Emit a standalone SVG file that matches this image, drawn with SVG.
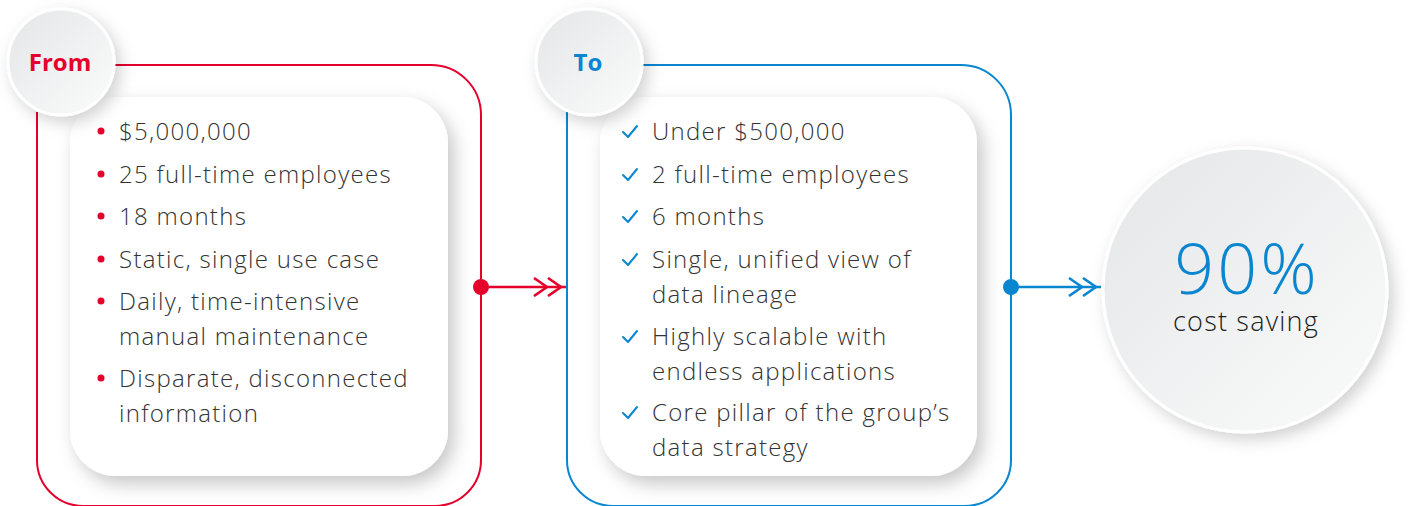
<svg xmlns="http://www.w3.org/2000/svg" width="1411" height="506" viewBox="0 0 1411 506">
  <defs>
    <linearGradient id="discFill" x1="0" y1="0" x2="1" y2="1">
      <stop offset="0" stop-color="#e4e6e7"/>
      <stop offset="1" stop-color="#fbfbfb"/>
    </linearGradient>
    <filter id="cardShadow" x="-20%" y="-20%" width="150%" height="150%">
      <feDropShadow dx="6" dy="8" stdDeviation="9" flood-color="#000" flood-opacity="0.22"/>
    </filter>
    <filter id="discShadow" x="-30%" y="-30%" width="170%" height="170%">
      <feDropShadow dx="5" dy="6" stdDeviation="8" flood-color="#000" flood-opacity="0.18"/>
    </filter>
    <marker id="chevRed" viewBox="0 0 40 20" refX="38" refY="10" markerWidth="40" markerHeight="20" markerUnits="userSpaceOnUse" orient="auto">
      <path d="M6,1 L19,10 L6,19 M20,1 L33,10 L20,19" fill="none" stroke="#e4002b" stroke-width="2.6"/>
    </marker>
    <marker id="chevBlue" viewBox="0 0 40 20" refX="38" refY="10" markerWidth="40" markerHeight="20" markerUnits="userSpaceOnUse" orient="auto">
      <path d="M6,1 L19,10 L6,19 M20,1 L33,10 L20,19" fill="none" stroke="#0a86d1" stroke-width="2.6"/>
    </marker>
  </defs>
  <style>
    .frame-red { fill: none; stroke: #e4002b; stroke-width: 2; }
    .frame-blue { fill: none; stroke: #0a86d1; stroke-width: 2; }
    .card { fill: #ffffff; filter: url(#cardShadow); }
    .disc { fill: url(#discFill); stroke: #ffffff; stroke-width: 3; filter: url(#discShadow); }
    .title { font-family: "Open Sans", "Liberation Sans", sans-serif; font-weight: 700; font-size: 24px; text-anchor: middle; }
    .item { font-family: "Open Sans", "Liberation Sans", sans-serif; font-weight: 300; font-size: 24px; letter-spacing: 1.3px; fill: #333333; }
    .dot-red { fill: #e4002b; }
    .tick { fill: none; stroke: #0a86d1; stroke-width: 2; stroke-linecap: round; stroke-linejoin: round; }
  </style>

  <rect width="1411" height="506" fill="#ffffff"/>

  <!-- "From" column -->
  <g id="from">
    <path class="frame-red" d="M112,65 H431 A50,50 0 0 1 481,115 V460 A46,46 0 0 1 435,506 H83 A46,46 0 0 1 37,460 V112"/>
    <rect class="card" x="70" y="97" width="378" height="379" rx="46"/>
    <circle class="disc" cx="61" cy="62" r="53"/>
    <text class="title" x="60" y="71" fill="#e4002b">From</text>
    <g>
      <circle class="dot-red" cx="101" cy="131" r="3.5"/>
      <text class="item" x="119" y="140">$5,000,000</text>
      <circle class="dot-red" cx="101" cy="174" r="3.5"/>
      <text class="item" x="119" y="183">25 full-time employees</text>
      <circle class="dot-red" cx="101" cy="216" r="3.5"/>
      <text class="item" x="119" y="225">18 months</text>
      <circle class="dot-red" cx="101" cy="259" r="3.5"/>
      <text class="item" x="119" y="268">Static, single use case</text>
      <circle class="dot-red" cx="101" cy="301" r="3.5"/>
      <text class="item" x="119" y="310">Daily, time-intensive</text>
      <text class="item" x="119" y="345">manual maintenance</text>
      <circle class="dot-red" cx="101" cy="378" r="3.5"/>
      <text class="item" x="119" y="387">Disparate, disconnected</text>
      <text class="item" x="119" y="422">information</text>
    </g>
  </g>

  <!-- "To" column -->
  <g id="to">
    <path class="frame-blue" d="M641,65 H961 A50,50 0 0 1 1011,115 V460 A46,46 0 0 1 965,506 H613 A46,46 0 0 1 567,460 V112"/>
    <rect class="card" x="600" y="97" width="377" height="379" rx="46"/>
    <circle class="disc" cx="589" cy="62" r="53"/>
    <text class="title" x="588" y="71" fill="#0a86d1">To</text>
    <g>
      <path class="tick" d="M623,132 L628,137 L637,126"/>
      <text class="item" x="652" y="140">Under $500,000</text>
      <path class="tick" d="M623,175 L628,180 L637,169"/>
      <text class="item" x="652" y="183">2 full-time employees</text>
      <path class="tick" d="M623,217 L628,222 L637,211"/>
      <text class="item" x="652" y="225">6 months</text>
      <path class="tick" d="M623,260 L628,265 L637,254"/>
      <text class="item" x="652" y="268">Single, unified view of</text>
      <text class="item" x="652" y="303">data lineage</text>
      <path class="tick" d="M623,337 L628,342 L637,331"/>
      <text class="item" x="652" y="345">Highly scalable with</text>
      <text class="item" x="652" y="380">endless applications</text>
      <path class="tick" d="M623,413 L628,418 L637,407"/>
      <text class="item" x="652" y="421">Core pillar of the group’s</text>
      <text class="item" x="652" y="456">data strategy</text>
    </g>
  </g>

  <!-- Result disc -->
  <g id="result">
    <circle class="disc" cx="1245" cy="290" r="142"/>
    <text x="1247" y="294" text-anchor="middle" font-family="Open Sans, Liberation Sans, sans-serif" font-weight="300" font-size="70" letter-spacing="3" fill="#0a86d1">90%</text>
    <text x="1246" y="331" text-anchor="middle" font-family="Open Sans, Liberation Sans, sans-serif" font-weight="300" font-size="27" letter-spacing="1.2" fill="#222222">cost saving</text>
  </g>

  <!-- Connectors -->
  <g id="connectors">
    <line x1="481" y1="287" x2="566" y2="287" stroke="#e4002b" stroke-width="2.6" marker-end="url(#chevRed)"/>
    <circle cx="481" cy="287" r="8" fill="#e4002b"/>
    <line x1="1011" y1="287" x2="1101" y2="287" stroke="#0a86d1" stroke-width="2.6" marker-end="url(#chevBlue)"/>
    <circle cx="1011" cy="287" r="8" fill="#0a86d1"/>
  </g>
</svg>
